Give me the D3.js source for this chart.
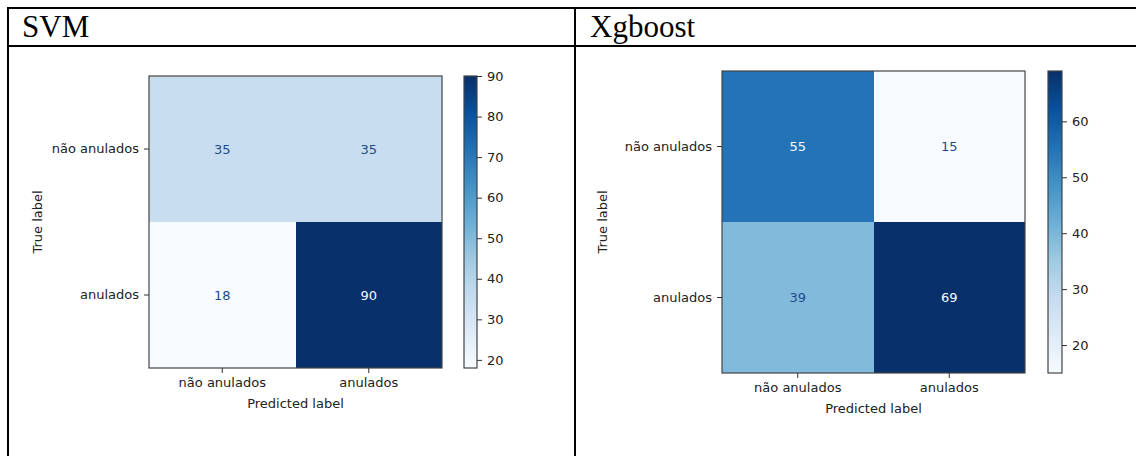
<!DOCTYPE html>
<html>
<head>
<meta charset="utf-8">
<script src="https://cdn.jsdelivr.net/npm/d3@7"></script>
<style>
  html, body { margin: 0; padding: 0; background: #fff; }
  svg { display: block; }
  text { font-family: "DejaVu Sans", sans-serif; }
</style>
</head>
<body>
<svg id="chart" width="1136" height="456"></svg>
<script>
// Class labels shared by both confusion matrices
const classes = ["não anulados", "anulados"];

// Confusion matrix counts, rows = true label, columns = predicted label
const svmValues = [[35, 35], [18, 90]];
const xgbValues = [[55, 15], [39, 69]];

// Model names shown in the table header
const titles = ["SVM", "Xgboost"];

// Colour bar tick values
const svmTicks = [20, 30, 40, 50, 60, 70, 80, 90];
const xgbTicks = [20, 30, 40, 50, 60];

// Matplotlib "Blues" colormap anchors (linear segments)
const blues = ["#f7fbff", "#deebf7", "#c6dbef", "#9ecae1", "#6baed6",
               "#4292c6", "#2171b5", "#08519c", "#08306b"];

const svg = d3.select("#chart");

// ---- table frame ----
const frame = svg.append("g").attr("stroke", "#000").attr("stroke-width", 2);
frame.append("line").attr("x1", 7).attr("x2", 1136).attr("y1", 8).attr("y2", 8);
frame.append("line").attr("x1", 7).attr("x2", 1136).attr("y1", 46).attr("y2", 46);
frame.append("line").attr("x1", 8).attr("x2", 8).attr("y1", 7).attr("y2", 456);
frame.append("line").attr("x1", 575).attr("x2", 575).attr("y1", 7).attr("y2", 456);

svg.append("text").attr("x", 22).attr("y", 37)
  .style("font-family", "'Liberation Serif', 'Times New Roman', serif")
  .style("font-size", "31px").attr("fill", "#000").text(titles[0]);
svg.append("text").attr("x", 590).attr("y", 37)
  .style("font-family", "'Liberation Serif', 'Times New Roman', serif")
  .style("font-size", "31px").attr("fill", "#000").text(titles[1]);

// ---- one confusion-matrix panel ----
function drawMatrix(values, ticks, box, id) {
  const flat = values.flat();
  const vmin = d3.min(flat), vmax = d3.max(flat);
  const stops = blues.map((_, i) => vmin + (vmax - vmin) * i / (blues.length - 1));
  const color = d3.scaleLinear().domain(stops).range(blues).interpolate(d3.interpolateRgb);
  const thresh = (vmin + vmax) / 2;

  const x = d3.scaleBand().domain(classes).range([box.x0, box.x1]);
  const y = d3.scaleBand().domain(classes).range([box.y0, box.y1]);

  const g = svg.append("g");

  const cells = [];
  values.forEach((row, i) => row.forEach((v, j) => cells.push({ t: classes[i], p: classes[j], v })));

  g.selectAll("rect.cell").data(cells).join("rect")
    .attr("class", "cell")
    .attr("x", d => x(d.p)).attr("y", d => y(d.t))
    .attr("width", x.bandwidth()).attr("height", y.bandwidth())
    .attr("shape-rendering", "crispEdges")
    .attr("fill", d => color(d.v));

  g.selectAll("text.val").data(cells).join("text")
    .attr("class", "val")
    .attr("x", d => x(d.p) + x.bandwidth() / 2)
    .attr("y", d => y(d.t) + y.bandwidth() / 2)
    .attr("text-anchor", "middle").attr("dominant-baseline", "central")
    .style("font-size", "13px")
    .attr("fill", d => d.v < thresh ? "#1f4a8a" : blues[0])
    .text(d => d.v);

  // frame of the matrix
  g.append("rect").attr("x", box.x0).attr("y", box.y0)
    .attr("width", box.x1 - box.x0).attr("height", box.y1 - box.y0)
    .attr("fill", "none").attr("stroke", "#444").attr("stroke-width", 1.2);

  // axes
  const xAxis = g.append("g").attr("transform", `translate(0,${box.y1})`)
    .call(d3.axisBottom(x).tickSize(5).tickPadding(5));
  const yAxis = g.append("g").attr("transform", `translate(${box.x0},0)`)
    .call(d3.axisLeft(y).tickSize(5).tickPadding(5));
  [xAxis, yAxis].forEach(a => {
    a.select(".domain").remove();
    a.selectAll("line").attr("stroke", "#333");
    a.selectAll("text").style("font-size", "13px").attr("fill", "#222")
      .style("font-family", "'DejaVu Sans', sans-serif");
  });

  g.append("text")
    .attr("x", (box.x0 + box.x1) / 2).attr("y", box.y1 + 40)
    .attr("text-anchor", "middle").style("font-size", "13px").attr("fill", "#222")
    .text("Predicted label");
  g.append("text")
    .attr("transform", `translate(${box.x0 - box.ylab},${(box.y0 + box.y1) / 2}) rotate(-90)`)
    .attr("text-anchor", "middle").attr("dominant-baseline", "central")
    .style("font-size", "13px").attr("fill", "#222")
    .text("True label");

  // colour bar
  const cb = d3.scaleLinear().domain([vmin, vmax]).range([box.y1, box.y0]);
  const grad = svg.append("defs").append("linearGradient")
    .attr("id", id).attr("x1", 0).attr("x2", 0).attr("y1", 1).attr("y2", 0);
  grad.selectAll("stop").data(blues).join("stop")
    .attr("offset", (d, i) => i / (blues.length - 1))
    .attr("stop-color", d => d);
  g.append("rect").attr("x", box.c0).attr("y", box.y0)
    .attr("width", box.c1 - box.c0).attr("height", box.y1 - box.y0)
    .attr("fill", `url(#${id})`).attr("stroke", "#444").attr("stroke-width", 1.2);
  const cAxis = g.append("g").attr("transform", `translate(${box.c1},0)`)
    .call(d3.axisRight(cb).tickValues(ticks).tickSize(5).tickPadding(5).tickFormat(d3.format("d")));
  cAxis.select(".domain").remove();
  cAxis.selectAll("line").attr("stroke", "#333");
  cAxis.selectAll("text").style("font-size", "13px").attr("fill", "#222")
    .style("font-family", "'DejaVu Sans', sans-serif");
}

drawMatrix(svmValues, svmTicks,
  { x0: 149, x1: 442, y0: 76, y1: 368, c0: 464, c1: 477, ylab: 112 }, "gradSvm");
drawMatrix(xgbValues, xgbTicks,
  { x0: 722, x1: 1025, y0: 71, y1: 373, c0: 1048, c1: 1062, ylab: 120 }, "gradXgb");
</script>
</body>
</html>
